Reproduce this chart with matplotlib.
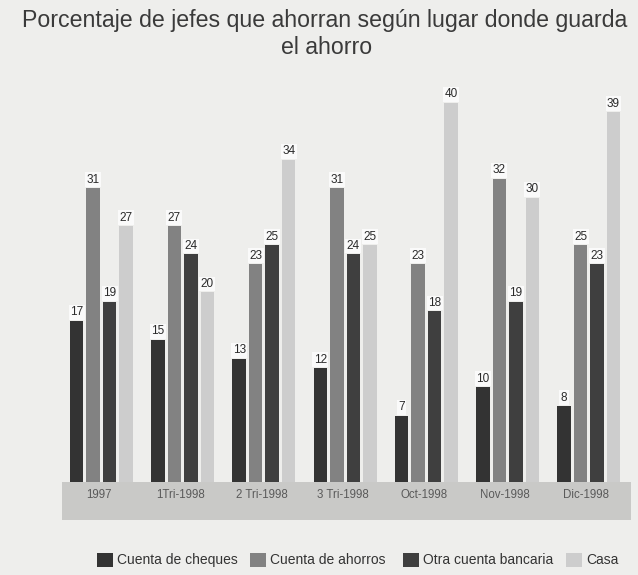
import matplotlib
matplotlib.use("Agg")
import matplotlib.pyplot as plt
from matplotlib.patches import Rectangle

categories = ["1997", "1Tri-1998", "2 Tri-1998", "3 Tri-1998", "Oct-1998", "Nov-1998", "Dic-1998"]
series_names = ["Cuenta de cheques", "Cuenta de ahorros", "Otra cuenta bancaria", "Casa"]
cheques = [17, 15, 13, 12, 7, 10, 8]
ahorros = [31, 27, 23, 31, 23, 32, 25]
otra = [19, 24, 25, 24, 18, 19, 23]
casa = [27, 20, 34, 25, 40, 30, 39]
series = [cheques, ahorros, otra, casa]
colors = ["#333333", "#828282", "#3f3f3f", "#cdcdcd"]

W, H = 638, 575
bg = "#eeeeec"
fig = plt.figure(figsize=(W / 100, H / 100), dpi=100, facecolor=bg)

def fx(px):
    return px / W

def fy(py):
    return 1 - py / H

# axes: x 62..631 px, y 60..482 px
ax = fig.add_axes([fx(62), fy(482), fx(631) - fx(62), fy(60) - fy(482)])
ax.set_facecolor("none")
for s in ax.spines.values():
    s.set_visible(False)
ax.set_xticks([])
ax.set_yticks([])

step = 0.203
width = 0.166
n = len(categories)
ax.set_xlim(-0.486, 6.52)
ax.set_ylim(0, 44.5)

for j, (vals, col) in enumerate(zip(series, colors)):
    xs = [i + (j - 1.5) * step for i in range(n)]
    ax.bar(xs, vals, width=width, color=col, edgecolor="none", zorder=2)
    for x, v in zip(xs, vals):
        ax.text(x, v + 0.25, str(v), ha="center", va="bottom", fontsize=8.5,
                family="Liberation Sans", color="#2a2a2a", zorder=3,
                bbox=dict(boxstyle="square,pad=0.12", facecolor="#fafafa", edgecolor="none"))

# gray band for category labels
fig.patches.append(Rectangle((fx(62), fy(520)), fx(631) - fx(62), fy(482) - fy(520),
                             transform=fig.transFigure, facecolor="#c9c9c7",
                             edgecolor="none", zorder=-1))
for i, c in enumerate(categories):
    ax.text(i - 0.03, -13 / 9.48, c, ha="center", va="center", fontsize=8.3,
            family="Liberation Sans", color="#5a5a5a", clip_on=False, zorder=5)

# title
fig.text(fx(22), fy(27), "Porcentaje de jefes que ahorran según lugar donde guarda",
         ha="left", va="baseline", fontsize=16.7, family="Liberation Sans", color="#3a3a3a")
fig.text(fx(327), fy(54), "el ahorro", ha="center", va="baseline", fontsize=16.7,
         family="Liberation Sans", color="#3a3a3a")

# legend
leg_sq = [97, 250, 403, 566]
for name, col, sx in zip(series_names, colors, leg_sq):
    fig.patches.append(Rectangle((fx(sx), fy(567)), fx(16), 14 / H,
                                 transform=fig.transFigure, facecolor=col,
                                 edgecolor="none"))
    fig.text(fx(sx + 20), fy(560), name, ha="left", va="center", fontsize=10,
             family="Liberation Sans", color="#333333")

fig.savefig("out.png", dpi=100, facecolor=bg)
